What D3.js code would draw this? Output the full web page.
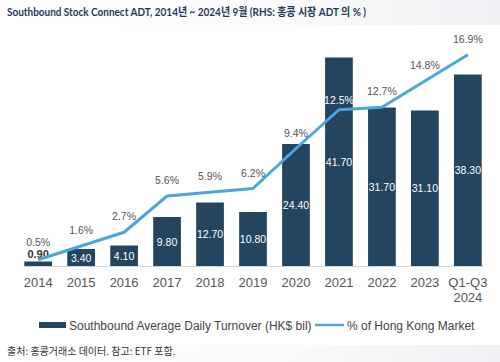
<!DOCTYPE html>
<html>
<head>
<meta charset="utf-8">
<script src="https://cdn.jsdelivr.net/npm/d3@7"></script>
<style>
  html, body { margin: 0; padding: 0; background: #ffffff; }
  svg { display: block; }
</style>
</head>
<body>
<svg id="chart" width="500" height="362"></svg>
<script>
var categories = ["2014", "2015", "2016", "2017", "2018", "2019", "2020", "2021", "2022", "2023", "Q1-Q3\n2024"];
var turnover = [0.90, 3.40, 4.10, 9.80, 12.70, 10.80, 24.40, 41.70, 31.70, 31.10, 38.30];
var sharePct = [0.5, 1.6, 2.7, 5.6, 5.9, 6.2, 9.4, 12.5, 12.7, 14.8, 16.9];
var titleText = "Southbound Stock Connect ADT, 2014년 ~ 2024년 9월 (RHS: 홍콩 시장 ADT 의 % )";
var barLegend = "Southbound Average Daily Turnover (HK$ bil)";
var lineLegend = "% of Hong Kong Market";
var footText = "출처: 홍콩거래소 데이터. 참고: ETF 포함.";

var svg = d3.select("#chart"),
  margin = { top: 41, right: 17, bottom: 96, left: 23 },
  width = 500 - margin.left - margin.right,
  height = 362 - margin.top - margin.bottom;

var barColor = "#23455f",
  lineColor = "#4aa6dc",
  textFont = "'Liberation Sans', Arial, 'Noto Sans CJK KR', sans-serif";

// background bands
var defs = svg.append("defs");
var grad = defs.append("linearGradient").attr("id", "band");
grad.append("stop").attr("offset", "0%").attr("stop-color", "#ffffff");
grad.append("stop").attr("offset", "55%").attr("stop-color", "#fbfbfc");
grad.append("stop").attr("offset", "100%").attr("stop-color", "#eef0f3");
svg.append("rect").attr("x", 0).attr("y", 0).attr("width", 500).attr("height", 25).attr("fill", "url(#band)");
svg.append("rect").attr("x", 0).attr("y", 345).attr("width", 500).attr("height", 17).attr("fill", "url(#band)");

svg.append("text")
  .attr("x", 7).attr("y", 16)
  .attr("font-family", "Lato, 'Noto Sans CJK KR', sans-serif")
  .attr("font-size", 11)
  .attr("font-weight", "bold")
  .attr("fill", "#1e3956")
  .attr("textLength", 359)
  .attr("lengthAdjust", "spacingAndGlyphs")
  .text(titleText);

var x = d3.scaleBand().domain(categories).range([0, width]).paddingInner(0.355).paddingOuter(0.03),
  y = d3.scaleLinear().domain([0, 45]).range([height, 0]),
  y2 = d3.scaleLinear().domain([0, 18]).range([height, 0]);

var g = svg.append("g")
  .attr("transform", "translate(" + margin.left + "," + margin.top + ")");

// bars
g.selectAll(".bar")
  .data(turnover)
  .enter().append("rect")
  .attr("class", "bar")
  .attr("x", function (d, i) { return x(categories[i]); })
  .attr("y", function (d) { return y(d); })
  .attr("width", x.bandwidth())
  .attr("height", function (d) { return height - y(d); })
  .attr("fill", barColor);

// x axis
var xAxis = g.append("g")
  .attr("transform", "translate(0," + height + ")")
  .call(d3.axisBottom(x).tickSize(0).tickFormat(""));
xAxis.select(".domain").attr("stroke", "#d0d3d6").attr("stroke-width", 1.2);

xAxis.selectAll(".tick").each(function (d) {
  var lines = d.split("\n");
  var t = d3.select(this).append("text")
    .attr("y", 21)
    .attr("text-anchor", "middle")
    .attr("font-family", textFont)
    .attr("font-size", 13)
    .attr("fill", "#555");
  lines.forEach(function (l, k) {
    t.append("tspan").attr("x", 0).attr("dy", k === 0 ? 0 : 15).text(l);
  });
});

// bar value labels (tiny bars get the label on top)
function small(d) { return height - y(d) < 10; }
g.selectAll(".bar-label")
  .data(turnover)
  .enter().append("text")
  .attr("class", "bar-label")
  .attr("x", function (d, i) { return x(categories[i]) + x.bandwidth() / 2; })
  .attr("y", function (d) { return small(d) ? y(d) - 4 : (y(d) + height) / 2 + 4; })
  .attr("text-anchor", "middle")
  .attr("font-family", textFont)
  .attr("font-size", function (d) { return small(d) ? 11 : 10.5; })
  .attr("font-weight", function (d) { return small(d) ? "bold" : "normal"; })
  .attr("fill", function (d) { return small(d) ? "#333" : "#fff"; })
  .text(function (d) { return d.toFixed(2); });

// share line
var line = d3.line()
  .x(function (d, i) { return x(categories[i]) + x.bandwidth() / 2; })
  .y(function (d) { return y2(d); });

g.append("path")
  .datum(sharePct)
  .attr("fill", "none")
  .attr("stroke", lineColor)
  .attr("stroke-width", 3)
  .attr("stroke-linejoin", "round")
  .attr("d", line);

// share labels
function inBar(d, i) { return y(turnover[i]) < y2(d) - 12; }
g.selectAll(".pct-label")
  .data(sharePct)
  .enter().append("text")
  .attr("class", "pct-label")
  .attr("x", function (d, i) { return x(categories[i]) + x.bandwidth() / 2; })
  .attr("y", function (d, i) {
    if (i === 0) return y2(d) - 14;
    return y2(d) - (inBar(d, i) ? 6 : 12);
  })
  .attr("text-anchor", "middle")
  .attr("font-family", textFont)
  .attr("font-size", 10.5)
  .attr("fill", function (d, i) { return inBar(d, i) ? "#fff" : "#555"; })
  .text(function (d) { return d.toFixed(1) + "%"; });

// legend
var lg = svg.append("g").attr("transform", "translate(0,325)");
lg.append("rect").attr("x", 39).attr("y", -3).attr("width", 27).attr("height", 6).attr("fill", barColor);
lg.append("text").attr("x", 69).attr("y", 4.5)
  .attr("font-family", textFont).attr("font-size", 12).attr("fill", "#444")
  .text(barLegend);
lg.append("line").attr("x1", 315).attr("x2", 344).attr("y1", 0).attr("y2", 0)
  .attr("stroke", lineColor).attr("stroke-width", 2.5);
lg.append("text").attr("x", 347).attr("y", 4.5)
  .attr("font-family", textFont).attr("font-size", 12).attr("fill", "#444")
  .text(lineLegend);

svg.append("text")
  .attr("x", 7).attr("y", 355)
  .attr("font-family", "'Noto Sans CJK KR', 'Noto Sans', sans-serif")
  .attr("font-size", 10)
  .attr("fill", "#333")
  .text(footText);
</script>
</body>
</html>
